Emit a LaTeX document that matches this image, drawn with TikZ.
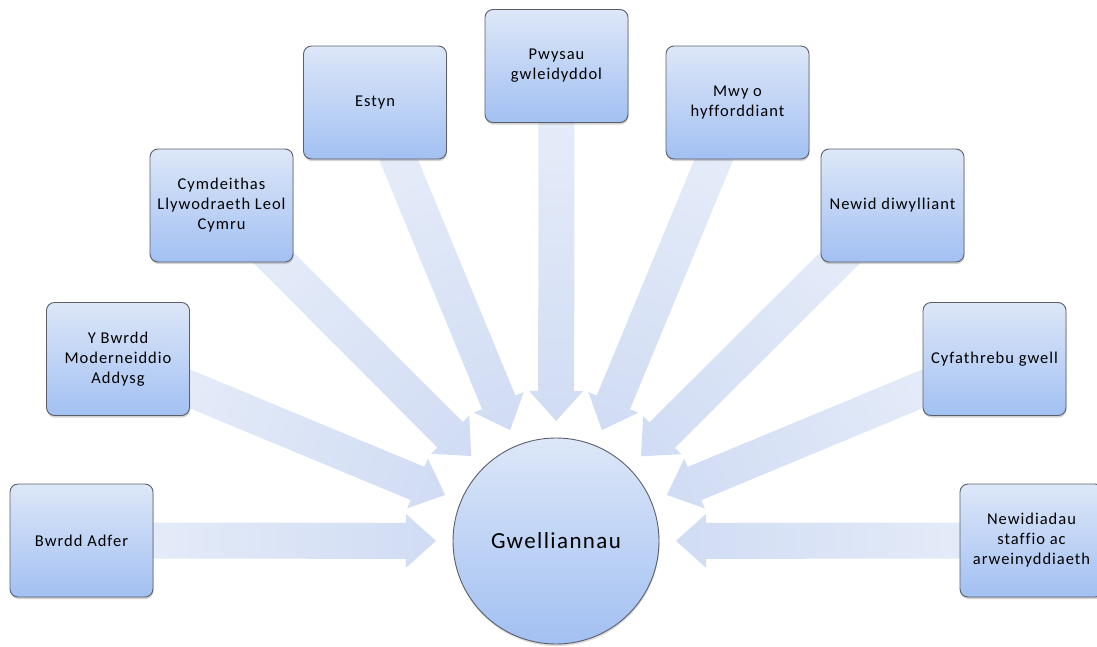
\documentclass[tikz,border=0pt]{standalone}
\usepackage{fontspec}
\setmainfont{Carlito}[LetterSpace=6,Ligatures=NoCommon]
\usetikzlibrary{calc,shadows}
\pgfdeclarelayer{bg}
\pgfsetlayers{bg,main}
\definecolor{boxtop}{HTML}{DDE7F8}
\definecolor{boxbot}{HTML}{A2C0F2}
\definecolor{boxline}{HTML}{5A5F6A}
\definecolor{arrin}{HTML}{C8D6F2}
\definecolor{arrout}{HTML}{ECF1FA}
\newcommand\blockarrow[2]{%
 ($(#1.center)!18pt!90:(#2.center)$)
 -- ($(#2.center)!150pt!(#1.center)!18pt!90:(#2.center)$)
 -- ($(#2.center)!150pt!(#1.center)!27pt!90:(#2.center)$)
 -- ($(#2.center)!120pt!(#1.center)$)
 -- ($(#2.center)!150pt!(#1.center)!27pt!-90:(#2.center)$)
 -- ($(#2.center)!150pt!(#1.center)!18pt!-90:(#2.center)$)
 -- ($(#1.center)!18pt!-90:(#2.center)$) -- cycle }
\tikzset{
  box/.style={rectangle, rounded corners=8pt, minimum width=143pt, minimum height=113pt,
    draw=boxline, line width=0.9pt, top color=boxtop, bottom color=boxbot,
    align=center, font=\fontsize{16.5}{20}\selectfont, text=black, inner sep=2pt,
    drop shadow={opacity=0.35, shadow xshift=0.5pt, shadow yshift=-2pt}},
  hub/.style={circle, minimum size=206pt, inner sep=0pt,
    draw=boxline, line width=0.9pt, top color=boxtop, bottom color=boxbot,
    font=\fontsize{23}{28}\selectfont, text=black,
    drop shadow={opacity=0.3, shadow xshift=0.5pt, shadow yshift=-2pt}}
}
\begin{document}
\begin{tikzpicture}[x=1pt,y=-1pt]
\useasboundingbox (0,0) rectangle (1097,646);
\node[hub] (g) at (556,541) {Gwelliannau};
\node[box] (b1) at (81.5,540.5) {Bwrdd Adfer};
\node[box] (b2) at (118,359) {Y Bwrdd\\Moderneiddio\\Addysg};
\node[box] (b3) at (221.5,205.5) {Cymdeithas\\Llywodraeth Leol\\Cymru};
\node[box] (b4) at (375,102.5) {Estyn};
\node[box] (b5) at (556.5,66) {Pwysau\\gwleidyddol};
\node[box] (b6) at (737.5,102.5) {Mwy o\\hyfforddiant};
\node[box] (b7) at (892.5,205.5) {Newid diwylliant};
\node[box] (b8) at (994.5,359) {Cyfathrebu gwell};
\node[box] (b9) at (1031.5,540.5) {Newidiadau\\staffio ac\\arweinyddiaeth};
\begin{pgfonlayer}{bg}
\begin{scope}
\clip \blockarrow{b1}{g} \blockarrow{b2}{g} \blockarrow{b3}{g}
      \blockarrow{b4}{g} \blockarrow{b5}{g} \blockarrow{b6}{g}
      \blockarrow{b7}{g} \blockarrow{b8}{g} \blockarrow{b9}{g};
\shade[inner color=arrin, outer color=arrout] (g.center) circle (520pt);
\end{scope}
\end{pgfonlayer}
\end{tikzpicture}
\end{document}
